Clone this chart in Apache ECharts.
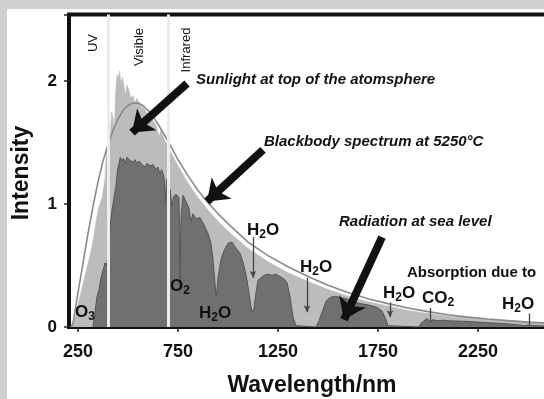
<!DOCTYPE html>
<html>
<head>
<meta charset="utf-8">
<script src="https://cdn.jsdelivr.net/npm/echarts@6/dist/echarts.min.js"></script>
<style>
html, body { margin: 0; padding: 0; width: 544px; height: 399px; overflow: hidden; background: #cfcfcf; }
#panel { position: absolute; left: 7px; top: 9px; width: 600px; height: 400px; background: #fff; }
#main { position: absolute; left: 0; top: 0; width: 600px; height: 399px; }
</style>
</head>
<body>
<div id="panel"></div>
<div id="main"></div>
<script>
//大气层顶部太阳光谱 (波长nm)
var toaWave = [212, 230, 260, 290, 320, 350, 370, 385, 392, 398, 405, 410, 418, 425, 432, 438, 445, 452, 458, 465, 472, 480, 487, 495, 505, 515, 525, 535, 545, 555, 565, 580, 595, 610, 625, 640, 655, 665, 680, 695, 700, 720, 750, 800, 850, 900, 950, 1000, 1050, 1100, 1200, 1300, 1400, 1500, 1600, 1700, 1800, 1900, 2000, 2100, 2200, 2300, 2400, 2500, 2600, 2650];
var toaVal = [0, 0.05, 0.25, 0.45, 0.65, 0.95, 1.05, 1.2, 1.45, 1.15, 1.6, 1.5, 1.75, 1.7, 1.6, 1.9, 2.05, 2.02, 2.08, 1.98, 2.03, 1.96, 1.88, 1.97, 1.92, 1.86, 1.88, 1.82, 1.86, 1.82, 1.8, 1.78, 1.74, 1.72, 1.68, 1.64, 1.55, 1.6, 1.53, 1.49, 1.46, 1.4, 1.31, 1.17, 1.05, 0.95, 0.86, 0.78, 0.71, 0.64, 0.53, 0.44, 0.37, 0.305, 0.25, 0.205, 0.17, 0.135, 0.11, 0.09, 0.075, 0.06, 0.048, 0.038, 0.03, 0.027];
//海平面辐射
var seaWave = [325, 335, 345, 355, 365, 375, 385, 392, 398, 410, 420, 430, 440, 448, 455, 462, 470, 478, 486, 495, 505, 515, 525, 535, 545, 555, 570, 585, 595, 610, 625, 640, 650, 660, 668, 680, 687, 692, 700, 710, 720, 728, 740, 755, 760, 765, 775, 790, 805, 815, 825, 840, 860, 880, 900, 915, 925, 935, 942, 950, 965, 980, 1000, 1020, 1040, 1060, 1080, 1095, 1110, 1120, 1130, 1140, 1150, 1165, 1180, 1200, 1220, 1240, 1260, 1280, 1295, 1310, 1325, 1340, 1350, 1440, 1455, 1470, 1490, 1510, 1535, 1560, 1590, 1620, 1660, 1700, 1745, 1770, 1790, 1800, 1810, 1955, 1965, 1980, 1995, 2010, 2025, 2050, 2080, 2100, 2150, 2200, 2250, 2300, 2350, 2400, 2450, 2480, 2500, 2550, 2650];
var seaVal = [0, 0.12, 0.25, 0.3, 0.4, 0.46, 0.52, 0.5, 0.55, 0.8, 0.95, 1.05, 1.15, 1.28, 1.33, 1.38, 1.35, 1.37, 1.33, 1.38, 1.36, 1.37, 1.34, 1.36, 1.33, 1.35, 1.32, 1.3, 1.33, 1.31, 1.32, 1.28, 1.3, 1.24, 1.28, 1.22, 1.02, 1.2, 1.16, 1.12, 0.98, 1.06, 1.08, 1.05, 0.33, 0.9, 1.07, 1.02, 0.96, 0.86, 0.92, 0.88, 0.89, 0.83, 0.76, 0.68, 0.55, 0.35, 0.25, 0.4, 0.55, 0.62, 0.68, 0.69, 0.64, 0.6, 0.5, 0.38, 0.22, 0.12, 0.15, 0.28, 0.38, 0.4, 0.42, 0.43, 0.42, 0.43, 0.41, 0.39, 0.36, 0.25, 0.08, 0.01, 0, 0, 0.05, 0.12, 0.21, 0.24, 0.25, 0.24, 0.23, 0.21, 0.19, 0.18, 0.16, 0.13, 0.06, 0.01, 0, 0, 0.03, 0.05, 0.07, 0.04, 0.06, 0.05, 0.055, 0.05, 0.048, 0.045, 0.04, 0.035, 0.03, 0.025, 0.018, 0.01, 0.015, 0.01, 0.005];
//5250°C 黑体光谱
var bbWave = [215, 225, 250, 275, 300, 325, 350, 375, 400, 425, 450, 475, 500, 525, 550, 575, 600, 625, 650, 700, 750, 800, 850, 900, 950, 1000, 1100, 1200, 1300, 1400, 1500, 1600, 1700, 1800, 1900, 2000, 2100, 2200, 2300, 2400, 2500, 2600, 2650];
var bbVal = [0, 0.03, 0.28, 0.52, 0.76, 0.98, 1.18, 1.35, 1.48, 1.6, 1.69, 1.76, 1.8, 1.82, 1.82, 1.8, 1.76, 1.71, 1.65, 1.51, 1.36, 1.23, 1.11, 1.01, 0.92, 0.84, 0.69, 0.58, 0.49, 0.41, 0.34, 0.28, 0.23, 0.19, 0.155, 0.125, 0.1, 0.08, 0.065, 0.052, 0.04, 0.032, 0.03];
//刻度
var xTicks = [250, 750, 1250, 1750, 2250];
//紫外/可见/红外分界
var bandEdges = [400, 700];

var zip = function(xs, ys) {
	var out = [];
	for(var i = 0; i < xs.length; i++) {
		out.push([xs[i], ys[i]]);
	}
	return out;
};

var FONT = "'Liberation Sans', Arial, sans-serif";
var chem = function(main, sub, tail) {
	return '{a|' + main + '}{s|' + sub + '}' + (tail ? '{a|' + tail + '}' : '');
};
var chemRich = {
	a: { fontSize: 17, fontWeight: 'bold', fontFamily: FONT, fill: '#111', color: '#111', lineHeight: 18 },
	s: { fontSize: 12, fontWeight: 'bold', fontFamily: FONT, fill: '#111', color: '#111', lineHeight: 18, padding: [9, 0, 0, 0] }
};
var chemText = function(x, y, str) {
	return {
		type: 'text', x: x, y: y, z: 100,
		style: { text: str, rich: chemRich, textVerticalAlign: 'middle', verticalAlign: 'middle', fill: '#111' }
	};
};
var note = function(x, y, str, italic) {
	return {
		type: 'text', x: x, y: y, z: 100,
		style: {
			text: str, fill: '#111', verticalAlign: 'middle',
			font: (italic ? 'italic ' : '') + 'bold 15px ' + FONT
		}
	};
};
var vText = function(x, y, str, size, weight) {
	return {
		type: 'text', x: x, y: y, z: 100, rotation: Math.PI / 2,
		style: { text: str, fill: '#111', align: 'center', verticalAlign: 'middle', font: weight + ' ' + size + 'px ' + FONT }
	};
};

var bigArrow = function(from, to) {
	return [{ coord: from }, { coord: to }];
};

var chart = echarts.init(document.getElementById('main'), null, { renderer: 'canvas' });
var option = {
	backgroundColor: 'transparent',
	animation: false,
	grid: {
		left: 69, top: 14.5, width: 489, height: 312.5,
		show: true, borderColor: '#111', borderWidth: 4, backgroundColor: 'transparent'
	},
	xAxis: {
		type: 'value', min: 205, max: 2650,
		axisLine: { show: false },
		splitLine: { show: false },
		axisTick: { show: true, length: 5, customValues: xTicks, lineStyle: { color: '#222', width: 1.5 } },
		axisLabel: {
			customValues: xTicks, margin: 16, color: '#111',
			fontSize: 18, fontWeight: 'bold', fontFamily: FONT,
			formatter: function(v) { return String(v); }
		}
	},
	yAxis: {
		type: 'value', min: 0, max: 2.54, interval: 1,
		axisLine: { show: false },
		splitLine: { show: false },
		axisTick: { show: true, length: 5, lineStyle: { color: '#222', width: 1.5 } },
		axisLabel: {
			margin: 12, color: '#111', fontSize: 17, fontWeight: 'bold', fontFamily: FONT,
			formatter: function(v) { return (v === 0 || v === 1 || v === 2) ? String(v) : ''; }
		}
	},
	series: [{
		name: 'top', type: 'line', z: 1, symbol: 'none',
		data: zip(toaWave, toaVal),
		lineStyle: { width: 0.5, color: '#b4b4b4' },
		areaStyle: { color: '#bcbcbc', opacity: 1 }
	}, {
		name: 'sea', type: 'line', z: 2, symbol: 'none',
		data: zip(seaWave, seaVal),
		lineStyle: { width: 1, color: '#555' },
		areaStyle: { color: '#707070', opacity: 1 }
	}, {
		name: 'edges', type: 'line', z: 3, symbol: 'none', data: [],
		markLine: {
			silent: true, symbol: 'none', label: { show: false },
			lineStyle: { color: '#ececec', width: 3, type: 'solid' },
			data: bandEdges.map(function(v) { return { xAxis: v }; })
		}
	}, {
		name: 'blackbody', type: 'line', z: 4, symbol: 'none',
		data: zip(bbWave, bbVal),
		lineStyle: { width: 1.6, color: '#8a8a8a' }
	}, {
		name: 'arrows', type: 'line', z: 5, symbol: 'none', data: [],
		markLine: {
			silent: true, symbol: ['none', 'arrow'], symbolSize: [22, 20],
			label: { show: false },
			lineStyle: { color: '#111', width: 8, type: 'solid' },
			data: [
				bigArrow([795, 1.98], [520, 1.58]),
				bigArrow([1175, 1.44], [895, 1.02]),
				bigArrow([1770, 0.73], [1580, 0.06])
			]
		}
	}, {
		name: 'ticks', type: 'line', z: 5, symbol: 'none', data: [],
		markLine: {
			silent: true, symbol: ['none', 'arrow'], symbolSize: [5, 7],
			label: { show: false },
			lineStyle: { color: '#444', width: 1.3, type: 'solid' },
			data: [
				bigArrow([1125, 0.73], [1125, 0.40]),
				bigArrow([1395, 0.40], [1395, 0.12]),
				bigArrow([1810, 0.20], [1810, 0.08]),
				[{ coord: [2010, 0.155], symbol: 'none' }, { coord: [2010, 0.04], symbol: 'none' }],
				[{ coord: [2505, 0.11], symbol: 'none' }, { coord: [2505, 0.015], symbol: 'none' }]
			]
		}
	}],
	graphic: [
		vText(22, 173, 'Intensity', 23, 'bold'),
		{
			type: 'text', x: 312, y: 386, z: 100,
			style: { text: 'Wavelength/nm', fill: '#111', align: 'center', verticalAlign: 'middle', font: 'bold 23px ' + FONT }
		},
		vText(93, 43, 'UV', 13, 'normal'),
		vText(139, 47, 'Visible', 13, 'normal'),
		vText(186, 50, 'Infrared', 13, 'normal'),
		note(196, 80, 'Sunlight at top of the atomsphere', true),
		note(264, 142, 'Blackbody spectrum at 5250°C', true),
		note(339, 222, 'Radiation at sea level', true),
		note(407, 273, 'Absorption due to', false),
		chemText(75, 312, chem('O', '3')),
		chemText(170, 286, chem('O', '2')),
		chemText(199, 313, chem('H', '2', 'O')),
		chemText(247, 230, chem('H', '2', 'O')),
		chemText(300, 267, chem('H', '2', 'O')),
		chemText(383, 293, chem('H', '2', 'O')),
		chemText(422, 298, chem('CO', '2')),
		chemText(502, 304, chem('H', '2', 'O'))
	]
};
chart.setOption(option);
</script>
</body>
</html>
